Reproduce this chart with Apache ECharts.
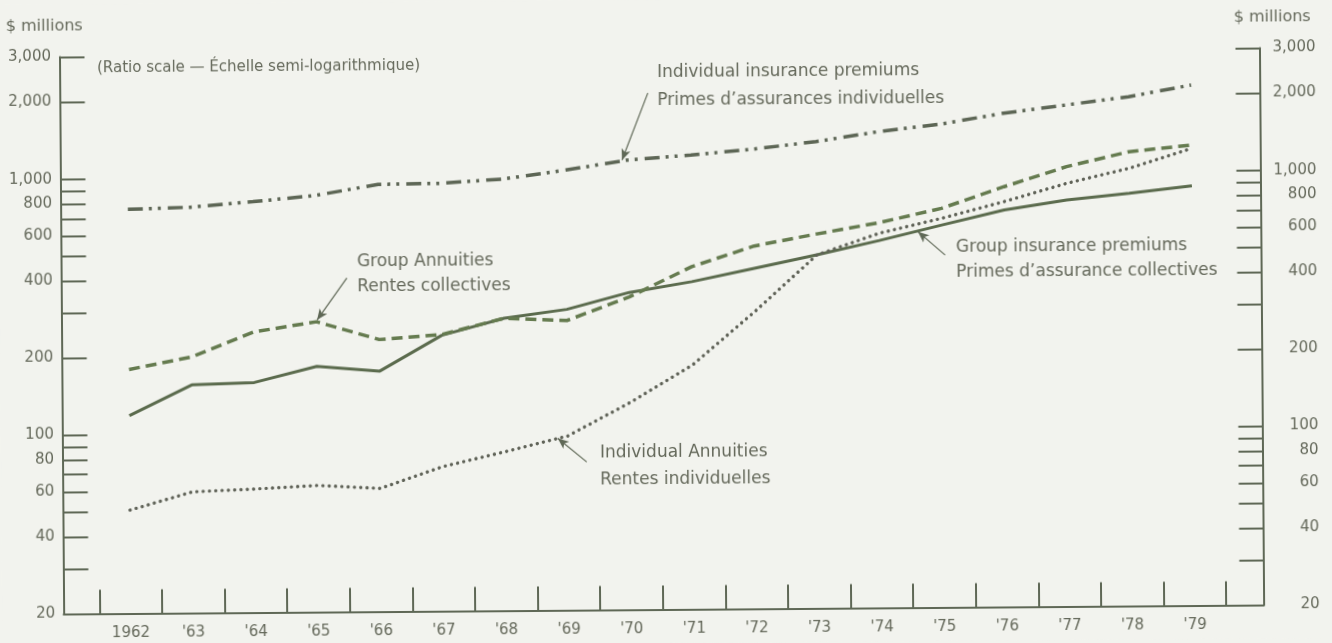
<!DOCTYPE html>
<html>
<head>
<meta charset="utf-8">
<script src="https://cdn.jsdelivr.net/npm/echarts@6/dist/echarts.min.js"></script>
<style>
html,body{margin:0;padding:0;background:#f2f3ee;overflow:hidden}
#c{width:1332px;height:643px;transform:rotate(-0.43deg);transform-origin:666px 321.5px}
</style>
</head>
<body>
<div id="c"></div>
<script>
// ---- data ----
const years = [1962,1963,1964,1965,1966,1967,1968,1969,1970,1971,1972,1973,1974,1975,1976,1977,1978,1979];
const yearLabels = ['1962',"'63","'64","'65","'66","'67","'68","'69","'70","'71","'72","'73","'74","'75","'76","'77","'78","'79"];
const groupInsurance      = [118.6,155.7,158.5,182.5,173.9,239.3,277.8,299.6,347.4,381,427.8,480.6,545,623.8,711,774.8,819.5,873];
const groupAnnuities      = [179.6,200.3,249.8,272.6,231.3,241,277.8,271,333.6,436,523,580.4,639.8,725,877,1045.6,1191,1259];
const individualInsurance = [759,770,806,849,934,939,972,1049,1144,1191,1251,1332,1451,1548,1698,1821,1954,2160];
const individualAnnuities = [50.7,59.5,60.8,62.5,60.6,73.4,83.6,95.9,129,180,289.6,480.6,581.6,662.6,766.6,900,1026,1222];
const yTickValues  = [20,30,40,50,60,70,80,90,100,200,300,400,500,600,700,800,900,1000,2000,3000];
const yLabelValues = [20,40,60,80,100,200,400,600,800,1000,2000,3000];

// annotation arrows in data coordinates: [tail, tip]
const arrowIndivInsurance = [[1970.32,2086],[1969.9,1144]];
const arrowGroupAnnuities = [[1965.49,403],[1965.01,277]];
const arrowGroupInsurance = [[1975.05,476],[1974.62,588]];
const arrowIndivAnnuities = [[1969.30,75.8],[1968.84,94]];

// ---- styles ----
const FONT = 'DejaVu Sans';
const textColor = '#65695b';
const axisColor = '#5f6856';

const chart = echarts.init(document.getElementById('c'), null, {renderer:'canvas'});

function arrow(pts){
  return {
    silent:true, animation:false,
    symbol:['none','arrow'], symbolSize:[7,11],
    lineStyle:{type:'solid', width:1.2, color:'#5f6856'},
    label:{show:false},
    emphasis:{disabled:true},
    data:[[{coord:pts[0]},{coord:pts[1]}]]
  };
}
function series(name, vals, lineStyle, arr){
  return {
    type:'line', name, xAxisIndex:0, yAxisIndex:0,
    data: years.map((y,i)=>[y, vals[i]]),
    symbol:'none', silent:true, animation:false,
    lineStyle, markLine: arrow(arr)
  };
}
function fmt(v){ return v >= 1000 ? (v/1000) + ',000' : String(v); }

function txt(x, y, s, size){
  return {type:'text', x, y, silent:true,
    style:{text:s, fill:textColor, font: size + 'px "' + FONT + '"', verticalAlign:'middle', align:'left'}};
}

const option = {
  backgroundColor:'#f2f3ee',
  animation:false,
  grid:[
    {left:61.5, top:52.5, width:1200, height:557},
    {left:97.4, top:52.5, width:1126.8, height:557}
  ],
  xAxis:[
    {type:'value', gridIndex:0, min:1960.9265, max:1980.096,
      axisLine:{show:true, lineStyle:{color:axisColor, width:2}},
      axisTick:{show:false}, axisLabel:{show:false}, splitLine:{show:false}},
    {type:'category', gridIndex:1, data:yearLabels, boundaryGap:true,
      axisLine:{show:false},
      axisTick:{show:true, inside:true, length:24, lineStyle:{color:axisColor, width:2}},
      axisLabel:{interval:0, margin:12, color:textColor, fontSize:15, fontFamily:FONT},
      splitLine:{show:false}}
  ],
  yAxis:[
    {type:'log', logBase:10, gridIndex:0, position:'left', min:20, max:3000,
      axisLine:{show:true, lineStyle:{color:axisColor, width:2}},
      axisTick:{show:true, inside:true, length:25, customValues:yTickValues, lineStyle:{color:axisColor, width:2}},
      axisLabel:{customValues:yLabelValues, formatter:fmt, margin:8.5, color:textColor, fontSize:15, fontFamily:FONT},
      splitLine:{show:false}, minorTick:{show:false}},
    {type:'log', logBase:10, gridIndex:0, position:'right', min:20, max:3000,
      axisLine:{show:true, lineStyle:{color:axisColor, width:2}},
      axisTick:{show:true, inside:true, length:24, customValues:yTickValues, lineStyle:{color:axisColor, width:2}},
      axisLabel:{customValues:yLabelValues, formatter:fmt, margin:56, align:'right', color:textColor, fontSize:15, fontFamily:FONT},
      splitLine:{show:false}, minorTick:{show:false}},
    {type:'value', gridIndex:1, show:false}
  ],
  series:[
    series('Group insurance premiums', groupInsurance, {color:'#5b6b4d', width:3}, arrowGroupInsurance),
    series('Group Annuities', groupAnnuities, {color:'#657b4f', width:3.5, type:[11,6]}, arrowGroupAnnuities),
    series('Individual insurance premiums', individualInsurance, {color:'#5d6655', width:3.5, type:[15,6,3,6,3,7], cap:'butt'}, arrowIndivInsurance),
    series('Individual Annuities', individualAnnuities, {color:'#5f6257', width:3.4, type:[0.01,6.3], cap:'round'}, arrowIndivAnnuities)
  ],
  graphic:[
    txt(8, 22, '$ millions', 16),
    txt(1236, 21.5, '$ millions', 16),
    txt(99, 63.7, '(Ratio scale \u2014 \u00c9chelle semi-logarithmique)', 15),
    txt(659, 73, 'Individual insurance premiums', 17),
    txt(659, 101, 'Primes d\u2019assurances individuelles', 17),
    txt(357.4, 259.7, 'Group Annuities', 17),
    txt(357.4, 284.7, 'Rentes collectives', 17),
    txt(956.6, 249.2, 'Group insurance premiums', 17),
    txt(956.6, 274.2, 'Primes d\u2019assurance collectives', 17),
    txt(599, 452.5, 'Individual Annuities', 17),
    txt(599, 479.5, 'Rentes individuelles', 17)
  ]
};
chart.setOption(option);
</script>
</body>
</html>
